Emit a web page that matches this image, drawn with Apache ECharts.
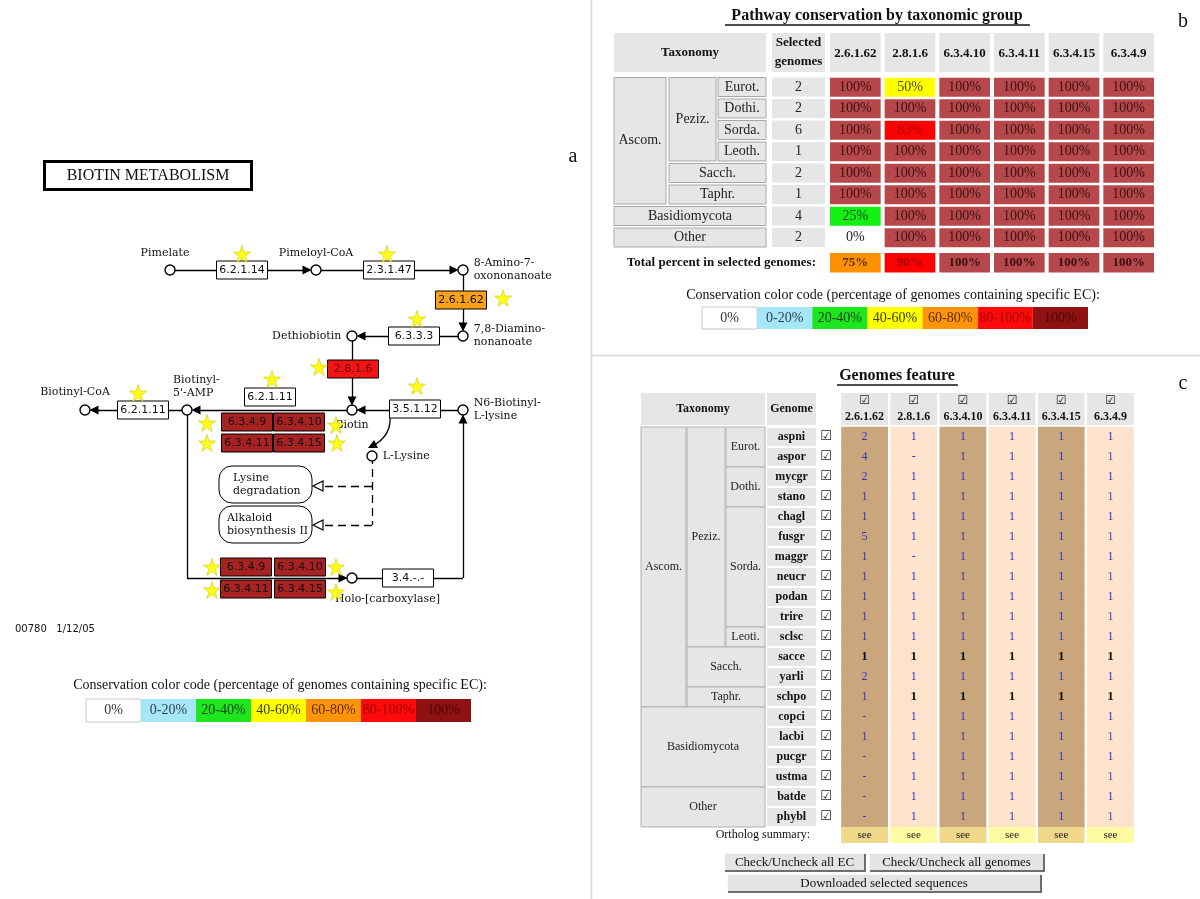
<!DOCTYPE html>
<html><head><meta charset="utf-8">
<script src="https://cdn.jsdelivr.net/npm/echarts@6/dist/echarts.min.js"></script>
<style>html,body{margin:0;padding:0;background:#fff}#c{width:1200px;height:899px}</style>
</head><body><div id="c"></div>
<script>
// ===================== DATA =====================
const ecCodes = ['2.6.1.62','2.8.1.6','6.3.4.10','6.3.4.11','6.3.4.15','6.3.4.9'];
const colorCodeLabels = ['0%','0-20%','20-40%','40-60%','60-80%','80-100%','100%'];

// panel b : pathway conservation by taxonomic group (percent)
const taxGroups = ['Eurot.','Dothi.','Sorda.','Leoth.','Sacch.','Taphr.','Basidiomycota','Other'];
const selectedGenomes = [2,2,6,1,2,1,4,2];
const pct_2_6_1_62 = [100,100,100,100,100,100,25,0];
const pct_2_8_1_6  = [50,100,83,100,100,100,100,100];
const pct_6_3_4_10 = [100,100,100,100,100,100,100,100];
const pct_6_3_4_11 = [100,100,100,100,100,100,100,100];
const pct_6_3_4_15 = [100,100,100,100,100,100,100,100];
const pct_6_3_4_9  = [100,100,100,100,100,100,100,100];
const totalPercent = [75,90,100,100,100,100];
// taxonomy tree: [label, first level, last level, first row, row count]
const treeB = [['Ascom.',0,0,0,6],['Peziz.',1,1,0,4],['Eurot.',2,2,0,1],['Dothi.',2,2,1,1],['Sorda.',2,2,2,1],['Leoth.',2,2,3,1],
  ['Sacch.',1,2,4,1],['Taphr.',1,2,5,1],['Basidiomycota',0,2,6,1],['Other',0,2,7,1]];

// panel c : genomes feature (ortholog counts, 0 = '-')
const genomes = ['aspni','aspor','mycgr','stano','chagl','fusgr','maggr','neucr','podan','trire','sclsc','sacce','yarli','schpo','copci','lacbi','pucgr','ustma','batde','phybl'];
const n_2_6_1_62 = [2,4,2,1,1,5,1,1,1,1,1,1,2,1,0,1,0,0,0,0];
const n_2_8_1_6  = [1,0,1,1,1,1,0,1,1,1,1,1,1,1,1,1,1,1,1,1];
const n_6_3_4_10 = [1,1,1,1,1,1,1,1,1,1,1,1,1,1,1,1,1,1,1,1];
const n_6_3_4_11 = [1,1,1,1,1,1,1,1,1,1,1,1,1,1,1,1,1,1,1,1];
const n_6_3_4_15 = [1,1,1,1,1,1,1,1,1,1,1,1,1,1,1,1,1,1,1,1];
const n_6_3_4_9  = [1,1,1,1,1,1,1,1,1,1,1,1,1,1,1,1,1,1,1,1];
const referenceGenomeFlags = { sacce:[1,1,1,1,1,1], schpo:[0,1,1,1,1,1] };
const orthologSummary = ['see','see','see','see','see','see'];
const treeC = [['Ascom.',0,0,0,14],['Peziz.',1,1,0,11],['Eurot.',2,2,0,2],['Dothi.',2,2,2,2],['Sorda.',2,2,4,6],['Leoti.',2,2,10,1],
  ['Sacch.',1,2,11,2],['Taphr.',1,2,13,1],['Basidiomycota',0,2,14,4],['Other',0,2,18,2]];

// panel a : biotin metabolism map
const compounds = ['Pimelate','Pimeloyl-CoA','8-Amino-7-\noxononanoate','7,8-Diamino-\nnonanoate','Dethiobiotin','Biotin',
  "Biotinyl-\n5'-AMP",'Biotinyl-CoA','N6-Biotinyl-\nL-lysine','L-Lysine','Holo-[carboxylase]'];
const enzymes = ['6.2.1.14','2.3.1.47','2.6.1.62','6.3.3.3','2.8.1.6','3.5.1.12','6.2.1.11','6.2.1.11',
  '6.3.4.9','6.3.4.10','6.3.4.11','6.3.4.15','6.3.4.9','6.3.4.10','6.3.4.11','6.3.4.15','3.4.-.-'];
const enzymeConservation = [null,null,75,null,90,null,null,null,100,100,100,100,100,100,100,100,null];
const linkedMaps = ['Lysine\ndegradation','Alkaloid\nbiosynthesis II'];

// ===================== LAYOUT / STYLE =====================
const SERIF='"Liberation Serif","Times New Roman",serif';
const DSERIF='"DejaVu Serif",serif';
const DSANS='"DejaVu Sans",sans-serif';

const compoundPos = [[170,270],[316,270],[463,270],[463,336],[352,336],[352,410],[187,410],[85,410],[463,410],[372,456],[352,578]];
const compoundLabelCfg = [{p:'top',o:[-5,0]},{p:'top'},{p:'right'},{p:'right'},{p:'left'},{p:'bottom',d:3},
  {p:'top',a:'left',o:[-14,0]},{p:'top',o:[-10,-1]},{p:'right'},{p:'right'},{p:'bottom',a:'left',o:[-17,4]}];
const enzymePos = [[242,270],[389,270],[461,300],[414,336],[353,369],[415,409],[270,397],[143,410],
  [247,422],[299,422],[247,443],[299,443],[246,567],[300,567],[246,589],[300,589],[408,578]];
const starPos = [[242,254],[387,254],[503,298],[417,319],[319,367],[417,386],[272,379],[138,393],
  [207,423],[207,443],[336,425],[337,443],[212,567],[212,590],[336,567],[336,592]];
const arrowEdges = [[[170,270],[316,270]],[[316,270],[463,270]],[[463,270],[463,336]],[[463,336],[352,336]],
  [[352,336],[352,410]],[[463,410],[352,410]],[[352,410],[187,410]],[[187,410],[85,410]],[[187,578],[352,578]],[[463,578],[463,410]]];
const plainEdges = [[[187,410],[187,578]],[[352,578],[463,578]]];
const dashedEdges = [[[372,456],[372,525]],[[372,486],[322,486]],[[372,525],[322,525]]];
const openArrowPos = [[318,486],[318,525]];
const mapBoxes = [[219,466,312,503],[219,506,312,543]];
const mapTextX = [233,227];

function band(p){ if(p===0) return 0; if(p<=20) return 1; if(p<=40) return 2; if(p<=60) return 3; if(p<=80) return 4; if(p<100) return 5; return 6; }
const legendPalette = ['#FFFFFF','#A5E7F7','#1EE61E','#FFFF00','#FF9408','#FF0A0A','#8E1212'];
const legendText    = ['#333333','#2F3F55','#0B3D0B','#3D3D00','#5C2E00','#A00000','#4D0606'];
const tablePalette  = ['#FFFFFF','#A5E7F7','#14F014','#FFFF00','#FF9000','#FF0000','#B6474A'];
const tableText     = ['#222222','#233344','#0A4A0A','#4A4A00','#5A2D00','#A00000','#3B1010'];
const diagPalette   = ['#FFFFFF','#A5E7F7','#22E622','#FFFF00','#F8A21C','#F51414','#A92222'];

function shorten(p0,p1,r){ const dx=p1[0]-p0[0], dy=p1[1]-p0[1]; const L=Math.hypot(dx,dy); return [p1[0]-dx/L*r, p1[1]-dy/L*r]; }

// ---------- generic pixel-grid boxes ----------
function pxSeries(items, z){
  return {type:'custom', xAxisIndex:0, yAxisIndex:0, z:z||2, silent:true,
    data: items.map(it=>[it.x0,it.y0,it.x1,it.y1]), encode:{x:[0,2],y:[1,3]}, clip:false,
    renderItem:function(params, api){
      const it = items[params.dataIndex];
      const p0 = api.coord([api.value(0), api.value(1)]), p1 = api.coord([api.value(2), api.value(3)]);
      const ch = [];
      if (it.fill || it.stroke) ch.push({type:'rect', shape:{x:p0[0],y:p0[1],width:p1[0]-p0[0],height:p1[1]-p0[1],r:it.r||0},
        style:{fill:it.fill||'none', stroke:it.stroke||null, lineWidth:it.lw||1}});
      if (it.text!=null){
        const tx = it.tx!=null ? api.coord([it.tx,0])[0] : (p0[0]+p1[0])/2;
        const ty = (p0[1]+p1[1])/2 + (it.dy||0);
        ch.push({type:'text', style:{x:tx, y:ty, text:it.text, fill:it.color||'#111', fontSize:it.fs||12, fontFamily:it.ff||SERIF,
          fontWeight:it.bold?'bold':'normal', align:it.align||'center', verticalAlign:'middle', lineHeight:it.lh||null}});
      }
      return {type:'group', children:ch};
    }};
}

// ---------- generic category-grid cells ----------
function cellSeries(gridIdx, data, insetX, insetY, styleFn, z){
  return {type:'custom', xAxisIndex:gridIdx, yAxisIndex:gridIdx, z:z||2, silent:true, data:data, encode:{x:0,y:1},
    renderItem:function(params, api){
      const c = api.coord([api.value(0), api.value(1)]); const s = api.size([1,1]);
      const st = styleFn(data[params.dataIndex]);
      const w = s[0]-2*insetX, h = s[1]-2*insetY;
      const ch = [{type:'rect', shape:{x:c[0]-w/2,y:c[1]-h/2,width:w,height:h}, style:{fill:st.fill, stroke:st.stroke||null, lineWidth:1}}];
      if (st.texts) st.texts.forEach(t=>ch.push({type:'text', style:{x:c[0], y:c[1]+(t.dy||0), text:t.text, fill:t.color||'#111',
        fontSize:t.fs||12, fontFamily:t.ff||SERIF, fontWeight:t.bold?'bold':'normal', align:'center', verticalAlign:'middle'}}));
      return {type:'group', children:ch};
    }};
}

// ---------- grids ----------
const grids = [
  {left:0, top:0, width:1200, height:899},          // 0 pixel grid
  {left:828, top:76.5, width:328, height:172},      // 1 table b
  {left:828, top:253, width:328, height:19.5},      // 2 total b
  {left:840, top:427, width:295, height:400},       // 3 table c
  {left:840, top:827, width:295, height:16},        // 4 ortholog summary
  {left:86, top:699, width:385, height:23},         // 5 legend a
  {left:702, top:307, width:386, height:22},        // 6 legend b
  {left:828, top:33, width:328, height:39},         // 7 header b
  {left:840, top:393, width:295, height:32}         // 8 header c
];
const xAxes = [{type:'value',min:0,max:1200,show:false},
  {type:'category',data:ecCodes,show:false},{type:'category',data:ecCodes,show:false},
  {type:'category',data:ecCodes,show:false},{type:'category',data:ecCodes,show:false},
  {type:'category',data:colorCodeLabels,show:false},{type:'category',data:colorCodeLabels,show:false},
  {type:'category',data:ecCodes,show:false},{type:'category',data:ecCodes,show:false}];
const yAxes = [{type:'value',min:0,max:899,inverse:true,show:false},
  {type:'category',data:taxGroups,inverse:true,show:false},{type:'category',data:['Total'],show:false},
  {type:'category',data:genomes,inverse:true,show:false},{type:'category',data:['Ortholog summary'],show:false},
  {type:'category',data:['code'],show:false},{type:'category',data:['code'],show:false},
  {type:'category',data:['header'],show:false},{type:'category',data:['header'],show:false}];
xAxes.forEach((a,i)=>a.gridIndex=i); yAxes.forEach((a,i)=>a.gridIndex=i);

// ---------- table structure (pixel grid) ----------
const B_TOP=76.5, B_P=21.5, C_TOP=427, C_P=20;
const lvB=[[614,666],[669,716],[718,766]], lvC=[[641,686],[687,725],[726,765]];
const structure = [];
// panel b headers
structure.push({x0:614,y0:33,x1:766,y1:72,fill:'#E6E6E6',text:'Taxonomy',bold:true,fs:13});
structure.push({x0:772,y0:33,x1:825,y1:72,fill:'#E6E6E6',text:'Selected\ngenomes',bold:true,fs:13,lh:19});
treeB.forEach(t=>structure.push({x0:lvB[t[1]][0],x1:lvB[t[2]][1],y0:B_TOP+t[3]*B_P+1,y1:B_TOP+(t[3]+t[4])*B_P-1.5,
  fill:'#E6E6E6',stroke:'#A8A8A8',text:t[0],fs:14,color:'#222'}));
selectedGenomes.forEach((v,i)=>structure.push({x0:772,x1:825,y0:B_TOP+i*B_P+1,y1:B_TOP+(i+1)*B_P-1.5,fill:'#E6E6E6',text:String(v),fs:14,color:'#222'}));
// panel c headers
structure.push({x0:641,y0:393,x1:765,y1:425,fill:'#E6E6E6',text:'Taxonomy',bold:true,fs:12});
structure.push({x0:767,y0:393,x1:816,y1:425,fill:'#E6E6E6',text:'Genome',bold:true,fs:12});
treeC.forEach(t=>structure.push({x0:lvC[t[1]][0],x1:lvC[t[2]][1],y0:C_TOP+t[3]*C_P,y1:C_TOP+(t[3]+t[4])*C_P,
  fill:'#E6E6E6',stroke:'#B0B0B0',text:t[0],fs:12,color:'#222'}));
genomes.forEach((g,i)=>{
  structure.push({x0:767,x1:816,y0:C_TOP+i*C_P+1,y1:C_TOP+(i+1)*C_P-1,fill:'#E6E6E6',text:g,bold:true,fs:12});
  structure.push({x0:819,x1:833,y0:C_TOP+i*C_P,y1:C_TOP+(i+1)*C_P,text:'\u2611',ff:DSANS,fs:13,color:'#222'});
});
// panel a boxes (title, linked maps)
structure.push({x0:44.5,y0:161.5,x1:251.5,y1:189.5,fill:'#fff',stroke:'#000',lw:3,text:'BIOTIN METABOLISM',fs:16,color:'#111',ff:SERIF});
linkedMaps.forEach((m,i)=>{const b=mapBoxes[i]; structure.push({x0:b[0],y0:b[1],x1:b[2],y1:b[3],fill:'#fff',stroke:'#000',lw:1,r:13,
  text:m,ff:DSERIF,fs:11,lh:13.5,align:'left',tx:mapTextX[i],color:'#111'});});

// ---------- cell data ----------
const pctCols=[pct_2_6_1_62,pct_2_8_1_6,pct_6_3_4_10,pct_6_3_4_11,pct_6_3_4_15,pct_6_3_4_9];
const bData=[]; pctCols.forEach((col,j)=>col.forEach((v,i)=>bData.push([j,i,v])));
const totData=totalPercent.map((v,j)=>[j,0,v]);
const cntCols=[n_2_6_1_62,n_2_8_1_6,n_6_3_4_10,n_6_3_4_11,n_6_3_4_15,n_6_3_4_9];
const cData=[]; cntCols.forEach((col,j)=>col.forEach((v,i)=>cData.push([j,i,v])));
const seeData=orthologSummary.map((s,j)=>[j,0,s]);
const legData=colorCodeLabels.map((l,k)=>[k,0,k]);
const hdrB=ecCodes.map((e,j)=>[j,0,e]);
const hdrC=ecCodes.map((e,j)=>[j,0,e]);

const colFill=['#C9A67B','#FDE3CB'], seeFill=['#EFD88A','#FFFBA3'];

// ---------- diagram ----------
const arrowLines = arrowEdges.map(e=>({coords:[e[0], shorten(e[0],e[1],9)]}));
const curveLine = [{coords:[[390,414],[372,446]]}];

const series = [
  pxSeries(structure, 2),
  cellSeries(1,bData,2,1.2,d=>{const b=band(d[2]);return {fill:tablePalette[b],texts:[{text:d[2]+'%',fs:14,color:tableText[b]}]};}),
  cellSeries(2,totData,2,0,d=>{const b=band(d[2]);return {fill:tablePalette[b],texts:[{text:d[2]+'%',fs:13,bold:true,color:tableText[b]}]};}),
  cellSeries(3,cData,1.2,-0.3,d=>{const g=genomes[d[1]]; const ref=referenceGenomeFlags[g]&&referenceGenomeFlags[g][d[0]];
    return {fill:colFill[d[0]%2],texts:[{text:d[2]===0?'-':String(d[2]),fs:ref?13:12,bold:!!ref,color:ref?'#111':'#3434C4'}]};}),
  cellSeries(4,seeData,1.2,0,d=>({fill:seeFill[d[0]%2],texts:[{text:d[2],fs:11,color:'#222'}]})),
  cellSeries(5,legData,0,0,d=>({fill:legendPalette[d[2]],stroke:d[2]===0?'#C8C8C8':null,texts:[{text:colorCodeLabels[d[2]],fs:14,color:legendText[d[2]]}]})),
  cellSeries(6,legData,0,0,d=>({fill:legendPalette[d[2]],stroke:d[2]===0?'#C8C8C8':null,texts:[{text:colorCodeLabels[d[2]],fs:14,color:legendText[d[2]]}]})),
  cellSeries(7,hdrB,2,0,d=>({fill:'#E6E6E6',texts:[{text:d[2],fs:13,bold:true,dy:1}]})),
  cellSeries(8,hdrC,1.2,0,d=>({fill:'#E6E6E6',texts:[{text:'\u2611',ff:DSANS,fs:12,dy:-8,color:'#222'},{text:d[2],fs:12,bold:true,dy:8}]})),
  // edges
  {type:'lines',coordinateSystem:'cartesian2d',xAxisIndex:0,yAxisIndex:0,z:3,silent:true,symbol:['none','triangle'],symbolSize:[8,9],
    lineStyle:{color:'#000',width:1.3,opacity:1},data:arrowLines},
  {type:'lines',coordinateSystem:'cartesian2d',xAxisIndex:0,yAxisIndex:0,z:3,silent:true,symbol:'none',
    lineStyle:{color:'#000',width:1.3,opacity:1},data:plainEdges.map(e=>({coords:e}))},
  {type:'lines',coordinateSystem:'cartesian2d',xAxisIndex:0,yAxisIndex:0,z:3,silent:true,symbol:'none',
    lineStyle:{color:'#000',width:1.3,opacity:1,type:[8,5]},data:dashedEdges.map(e=>({coords:e}))},
  {type:'lines',coordinateSystem:'cartesian2d',xAxisIndex:0,yAxisIndex:0,z:3,silent:true,symbol:['none','triangle'],symbolSize:[8,9],
    lineStyle:{color:'#000',width:1.3,opacity:1,curveness:0.35},data:curveLine},
  {type:'scatter',xAxisIndex:0,yAxisIndex:0,z:4,silent:true,symbol:'triangle',symbolSize:[10,10],symbolRotate:90,
    itemStyle:{color:'#fff',borderColor:'#000',borderWidth:1.2,opacity:1},data:openArrowPos},
  // enzyme boxes
  {type:'custom',xAxisIndex:0,yAxisIndex:0,z:5,silent:true,data:enzymePos.map((p,i)=>[p[0],p[1]]),encode:{x:0,y:1},
    renderItem:function(params,api){
      const i=params.dataIndex; const c=api.coord([api.value(0),api.value(1)]);
      const cons=enzymeConservation[i]; const b=cons==null?0:band(cons);
      return {type:'group',children:[{type:'rect',shape:{x:c[0]-25.5,y:c[1]-9,width:51,height:18},style:{fill:diagPalette[b],stroke:'#000',lineWidth:1}},
        {type:'text',style:{x:c[0],y:c[1]+0.5,text:enzymes[i],fontSize:11,fontFamily:DSANS,fill:b===5?'#5a0000':'#111',align:'center',verticalAlign:'middle'}}]};
    }},
  // compounds
  {type:'scatter',xAxisIndex:0,yAxisIndex:0,z:6,silent:true,symbol:'circle',symbolSize:10,
    itemStyle:{color:'#fff',borderColor:'#000',borderWidth:1.4,opacity:1},
    data:compounds.map((n,i)=>{const cfg=compoundLabelCfg[i]; return {value:compoundPos[i],
      label:{show:true,formatter:n,position:cfg.p,align:cfg.a,offset:cfg.o||[0,0],distance:cfg.d||5,color:'#111',fontFamily:DSERIF,fontSize:11,lineHeight:13}};})},
  // stars
  {type:'scatter',xAxisIndex:0,yAxisIndex:0,z:7,silent:true,
    symbol:'path://M50,0 L61,35 L98,35 L68,57 L79,91 L50,70 L21,91 L32,57 L2,35 L39,35 Z',symbolSize:17,
    itemStyle:{color:'#FFFF1A',borderColor:'#CFC400',borderWidth:0.6,opacity:1},data:starPos}
];

// ---------- static text / chrome ----------
function btn(x,y,w,h,label){return {type:'group',children:[
  {type:'rect',shape:{x:x,y:y,width:w,height:h},style:{fill:'#E4E4E4'}},
  {type:'polyline',shape:{points:[[x,y+h],[x,y],[x+w,y]]},style:{stroke:'#FFFFFF',lineWidth:1.5,fill:null}},
  {type:'polyline',shape:{points:[[x+1,y+h],[x+w,y+h],[x+w,y+1]]},style:{stroke:'#6E6E6E',lineWidth:2,fill:null}},
  {type:'text',style:{x:x+w/2,y:y+h/2+0.5,text:label,fontSize:13,fontFamily:SERIF,fill:'#111',align:'center',verticalAlign:'middle'}}]};}
function txt(x,y,t,o){o=o||{};return {type:'text',style:{x:x,y:y,text:t,fontSize:o.fs||14,fontFamily:o.ff||SERIF,fontWeight:o.bold?'bold':'normal',
  fill:o.color||'#111',align:o.align||'center',verticalAlign:'middle'}};}
const graphic = [
  {type:'line',shape:{x1:591.5,y1:0,x2:591.5,y2:899},style:{stroke:'#D8D8D8',lineWidth:1.5}},
  {type:'line',shape:{x1:591.5,y1:355.5,x2:1200,y2:355.5},style:{stroke:'#D8D8D8',lineWidth:1.5}},
  txt(573,157,'a',{fs:20}), txt(1183,22,'b',{fs:20}), txt(1183,384,'c',{fs:20}),
  txt(877,16,'Pathway conservation by taxonomic group',{fs:16,bold:true}),
  {type:'line',shape:{x1:725,y1:25,x2:1030,y2:25},style:{stroke:'#111',lineWidth:1.4}},
  txt(897,376,'Genomes feature',{fs:16,bold:true}),
  {type:'line',shape:{x1:837,y1:385,x2:958,y2:385},style:{stroke:'#111',lineWidth:1.4}},
  txt(816,263,'Total percent in selected genomes:',{fs:13,bold:true,align:'right'}),
  txt(893,295,'Conservation color code (percentage of genomes containing specific EC):',{fs:14}),
  txt(280,685,'Conservation color code (percentage of genomes containing specific EC):',{fs:14}),
  txt(810,835,'Ortholog summary:',{fs:12,align:'right'}),
  txt(15,629,'00780   1/12/05',{fs:10,ff:DSANS,align:'left'}),
  btn(724,853,141,18,'Check/Uncheck all EC'),
  btn(869,853,175,18,'Check/Uncheck all genomes'),
  btn(727,874,314,18,'Downloaded selected sequences')
];

const chart = echarts.init(document.getElementById('c'), null, {renderer:'canvas'});
chart.setOption({animation:false, backgroundColor:'#fff', grid:grids, xAxis:xAxes, yAxis:yAxes, series:series, graphic:graphic});
</script></body></html>
